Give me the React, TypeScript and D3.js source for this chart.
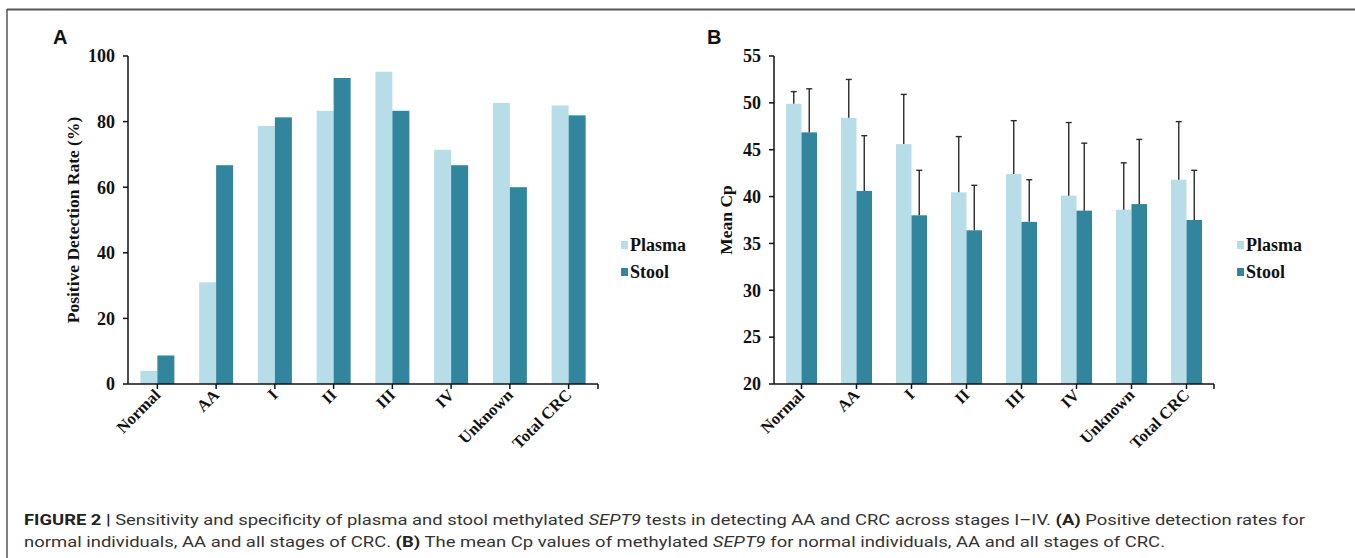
import { useMemo } from "react";
import * as d3 from "d3";

// categories and series
const categories = ["Normal", "AA", "I", "II", "III", "IV", "Unknown", "Total CRC"];
const seriesNames = ["Plasma", "Stool"];

// panel A: positive detection rate (%)
const ratePlasma = [4.0, 31.0, 78.7, 83.3, 95.2, 71.4, 85.7, 84.9];
const rateStool = [8.7, 66.7, 81.3, 93.3, 83.3, 66.7, 60.0, 81.9];
const rateTicks = [0, 20, 40, 60, 80, 100];

// panel B: mean Cp, with upper error bar end
const cpPlasma = [49.9, 48.4, 45.6, 40.45, 42.4, 40.1, 38.6, 41.8];
const cpStool = [46.85, 40.6, 38.0, 36.4, 37.3, 38.5, 39.2, 37.5];
const cpPlasmaTop = [51.2, 52.5, 50.9, 46.4, 48.1, 47.9, 43.6, 48.0];
const cpStoolTop = [51.5, 46.5, 42.8, 41.2, 41.8, 45.7, 46.1, 42.8];
const cpTicks = [20, 25, 30, 35, 40, 45, 50, 55];

const COLORS: Record<string, string> = { Plasma: "#b7dee8", Stool: "#31859c" };
const SERIF = "'Liberation Serif', 'Times New Roman', serif";
const SANS = "'Liberation Sans', Arial, sans-serif";

const TOP = 56;
const BOTTOM = 384;

type Panel = {
  letter: string;
  letterX: number;
  left: number;
  right: number;
  barW: number;
  domain: [number, number];
  ticks: number[];
  title: string;
  titleX: number;
  plasma: number[];
  stool: number[];
  plasmaTop?: number[];
  stoolTop?: number[];
};

function BarPanel({ p }: { p: Panel }) {
  const x = useMemo(
    () => d3.scaleBand<string>().domain(categories).range([p.left, p.right]).padding(0),
    [p]
  );
  const y = useMemo(() => d3.scaleLinear().domain(p.domain).range([BOTTOM, TOP]), [p]);
  const sub = d3.scaleBand<string>().domain(seriesNames).range([-p.barW, p.barW]);

  const rows = categories.map((c, i) => ({
    c,
    vals: [
      { s: "Plasma", v: p.plasma[i], top: p.plasmaTop ? p.plasmaTop[i] : null },
      { s: "Stool", v: p.stool[i], top: p.stoolTop ? p.stoolTop[i] : null },
    ],
  }));

  const axisX = p.left;
  const midY = (TOP + BOTTOM) / 2;

  return (
    <g>
      <text x={p.letterX} y={44} fontFamily={SANS} fontWeight={700} fontSize={20} fill="#111">
        {p.letter}
      </text>

      {/* bars */}
      {rows.map((r) => {
        const cx = (x(r.c) as number) + x.bandwidth() / 2;
        return r.vals.map((d) => {
          const bx = cx + (sub(d.s) as number);
          return (
            <rect
              key={r.c + d.s}
              x={bx}
              width={sub.bandwidth()}
              y={y(d.v)}
              height={y(p.domain[0]) - y(d.v)}
              fill={COLORS[d.s]}
            />
          );
        });
      })}

      {/* error bars (upper only) */}
      {rows.map((r) => {
        const cx = (x(r.c) as number) + x.bandwidth() / 2;
        return r.vals.map((d) => {
          if (d.top == null) return null;
          const ex = cx + (sub(d.s) as number) + sub.bandwidth() / 2;
          return (
            <g key={"e" + r.c + d.s} stroke="#2b2b2b" strokeWidth={1.4}>
              <line x1={ex} x2={ex} y1={y(d.v)} y2={y(d.top)} />
              <line x1={ex - 3} x2={ex + 3} y1={y(d.top)} y2={y(d.top)} />
            </g>
          );
        });
      })}

      {/* y axis */}
      <line x1={axisX} x2={axisX} y1={TOP} y2={BOTTOM} stroke="#111" strokeWidth={1.5} />
      {p.ticks.map((t) => (
        <g key={t}>
          <line x1={axisX - 5} x2={axisX} y1={y(t)} y2={y(t)} stroke="#111" strokeWidth={1.5} />
          <text
            x={axisX - 13}
            y={y(t)}
            dy="0.35em"
            textAnchor="end"
            fontFamily={SERIF}
            fontWeight={700}
            fontSize={18}
            fill="#111"
          >
            {t}
          </text>
        </g>
      ))}
      <text
        transform={`translate(${p.titleX},${midY}) rotate(-90)`}
        textAnchor="middle"
        fontFamily={SERIF}
        fontWeight={700}
        fontSize={17.5}
        fill="#111"
      >
        {p.title}
      </text>

      {/* x axis */}
      <line x1={axisX} x2={p.right} y1={BOTTOM} y2={BOTTOM} stroke="#111" strokeWidth={1.5} />
      <line x1={p.right} x2={p.right} y1={BOTTOM} y2={BOTTOM + 5} stroke="#111" strokeWidth={1.5} />
      {categories.map((c) => {
        const cx = (x(c) as number) + x.bandwidth() / 2;
        return (
          <g key={c}>
            <line x1={cx} x2={cx} y1={BOTTOM} y2={BOTTOM + 5} stroke="#111" strokeWidth={1.5} />
            <text
              transform={`translate(${cx + 4},${BOTTOM + 12}) rotate(-45)`}
              textAnchor="end"
              fontFamily={SERIF}
              fontWeight={700}
              fontSize={16.5}
              fill="#111"
            >
              {c}
            </text>
          </g>
        );
      })}

      {/* legend */}
      {seriesNames.map((s, i) => (
        <g key={s} transform={`translate(${p.right + 23},${245 + i * 27})`}>
          <rect x={0} y={-4} width={7} height={8} fill={COLORS[s]} />
          <text x={9} y={0} dy="0.35em" fontFamily={SERIF} fontWeight={700} fontSize={18} fill="#111">
            {s}
          </text>
        </g>
      ))}
    </g>
  );
}

const panelA: Panel = {
  letter: "A",
  letterX: 53,
  left: 128,
  right: 598,
  barW: 17,
  domain: [0, 100],
  ticks: rateTicks,
  title: "Positive Detection Rate (%)",
  titleX: 79,
  plasma: ratePlasma,
  stool: rateStool,
};

const panelB: Panel = {
  letter: "B",
  letterX: 707,
  left: 774,
  right: 1214,
  barW: 15.5,
  domain: [20, 55],
  ticks: cpTicks,
  title: "Mean Cp",
  titleX: 732,
  plasma: cpPlasma,
  stool: cpStool,
  plasmaTop: cpPlasmaTop,
  stoolTop: cpStoolTop,
};

export default function App() {
  const capFont = "'Liberation Sans Narrow', 'Roboto', 'Liberation Sans', sans-serif";
  return (
    <svg
      width={1355}
      height={558}
      style={{ position: "absolute", left: 0, top: 0, background: "#fff" }}
    >
      {/* figure frame */}
      <line x1={7} x2={1355} y1={9.5} y2={9.5} stroke="#555" strokeWidth={2} />
      <line x1={7} x2={7} y1={9} y2={558} stroke="#555" strokeWidth={1.5} />

      <BarPanel p={panelA} />
      <BarPanel p={panelB} />

      {/* caption */}
      <text
        x={24}
        y={525}
        fontFamily={capFont}
        fontSize={15}
        fill="#333"
        textLength={1281}
        lengthAdjust="spacingAndGlyphs"
      >
        <tspan fontWeight={700} fill="#222">FIGURE 2 |</tspan>
        <tspan> Sensitivity and specificity of plasma and stool methylated </tspan>
        <tspan fontStyle="italic">SEPT9</tspan>
        <tspan> tests in detecting AA and CRC across stages I–IV. </tspan>
        <tspan fontWeight={700} fill="#222">(A)</tspan>
        <tspan> Positive detection rates for</tspan>
      </text>
      <text
        x={24}
        y={547}
        fontFamily={capFont}
        fontSize={15}
        fill="#333"
        textLength={1141}
        lengthAdjust="spacingAndGlyphs"
      >
        <tspan>normal individuals, AA and all stages of CRC. </tspan>
        <tspan fontWeight={700} fill="#222">(B)</tspan>
        <tspan> The mean Cp values of methylated </tspan>
        <tspan fontStyle="italic">SEPT9</tspan>
        <tspan> for normal individuals, AA and all stages of CRC.</tspan>
      </text>
    </svg>
  );
}
